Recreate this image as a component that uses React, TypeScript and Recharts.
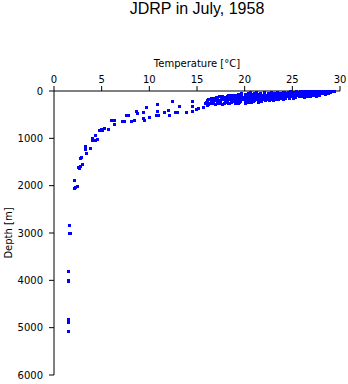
import { ScatterChart, Scatter, XAxis, YAxis } from 'recharts';

// hand-read points below the mixed layer: temperature [°C] / depth [m]
const deepTemp = [1.5, 1.5, 1.5, 1.5, 1.5, 1.5, 1.6, 1.7, 1.6, 2.2, 2.4, 2.1, 2.1];
const deepDepth = [5070, 4880, 4820, 4020, 3990, 3810, 3010, 2990, 2840, 2030, 2010, 2045, 1870];

const midTemp = [
  2.5, 2.7, 2.9, 2.6, 2.7, 2.8, 3.25, 3.4, 3.3, 3.8, 3.2, 3.95, 4.0, 4.3, 4.3, 4.55, 4.9, 5.2,
  4.75, 5.0, 5.7, 5.95, 6.3, 6.3, 7.1, 7.3, 7.55, 7.75, 8.05, 8.4, 8.6, 8.75, 9.3, 9.37, 9.45,
  9.6, 9.95, 10.7, 10.8, 10.8, 10.95, 11.5, 11.95, 12.1, 12.35, 12.65, 12.85, 13.15, 13.8,
  14.45, 14.5, 14.5, 14.85, 15.1, 15.6, 15.85, 16.1,
];
const midDepth = [
  1615, 1590, 1545, 1630, 1417, 1390, 1193, 1300, 1160, 1206, 1230, 997, 1030, 933, 1040, 1017,
  806, 785, 827, 820, 806, 617, 688, 617, 638, 638, 512, 500, 632, 617, 421, 470, 435, 562, 617,
  330, 540, 505, 267, 428, 512, 449, 393, 512, 217, 449, 449, 323, 435, 217, 323, 428, 379, 351,
  343, 260, 301,
];

// upper layer, grouped by sampling depth
const bandDepths = [0, 10, 20, 30, 50, 75, 100, 125, 150, 175, 200, 225, 250, 275];
const bandTemps = [
  [26.0, 26.5, 26.8, 27.3, 27.6, 28.1, 28.4, 28.7, 29.1, 29.4],
  [24.8, 25.4, 25.8, 26.2, 26.9, 27.3, 27.7, 28.3, 28.6, 29.1],
  [23.4, 24.1, 24.6, 25.1, 25.9, 26.4, 26.9, 27.6, 28.1, 28.8],
  [20.6, 21.2, 22.0, 22.8, 23.4, 24.0, 24.9, 25.5, 26.1, 26.9, 27.5, 28.3, 29.0],
  [19.6, 20.4, 21.0, 21.6, 22.5, 23.1, 23.7, 24.5, 25.3, 25.9, 26.5, 27.3, 28.1, 28.7],
  [18.6, 19.2, 20.1, 20.7, 21.3, 22.2, 22.8, 23.4, 24.2, 25.0, 25.6, 26.2, 27.0, 27.8],
  [17.6, 18.4, 19.0, 19.6, 20.5, 21.1, 21.7, 22.6, 23.2, 23.8, 24.7, 25.3, 26.0, 26.9, 27.5],
  [17.0, 17.8, 18.4, 19.0, 19.9, 20.5, 21.1, 22.0, 22.6, 23.2, 24.1, 24.7, 25.3, 26.2],
  [16.5, 17.1, 17.9, 18.7, 19.3, 19.9, 20.8, 21.4, 22.0, 22.9, 23.5, 24.2, 25.1],
  [16.2, 16.9, 17.5, 18.3, 19.1, 19.7, 20.3, 21.2, 21.8, 22.4, 23.3, 24.0],
  [16.0, 16.7, 17.3, 17.9, 18.8, 19.4, 20.0, 20.9, 21.5, 22.1, 23.0],
  [15.9, 16.5, 17.1, 17.9, 18.6, 19.2, 20.1, 20.7, 21.4],
  [15.8, 16.4, 17.2, 17.8, 18.4, 19.3, 20.0],
  [16.2, 16.9, 17.6],
];

// other stations, sampled between the depths above
const extraDepths = [5, 15, 40, 60, 85, 110, 140, 160, 190, 210, 240, 260];
const extraTemps = [
  [26.2, 26.6, 27.0, 27.4, 27.9, 28.2, 28.6, 28.9, 29.2],
  [24.5, 25.1, 25.6, 26.0, 26.6, 27.1, 27.5, 28.0, 28.5, 28.9],
  [21.0, 21.6, 22.4, 23.1, 23.7, 24.4, 25.2, 25.8, 26.4, 27.2, 27.8, 28.6],
  [19.3, 20.0, 20.7, 21.3, 22.0, 22.8, 23.4, 24.1, 24.9, 25.6, 26.2, 26.9, 27.6, 28.4],
  [18.2, 18.9, 19.5, 20.4, 21.0, 21.7, 22.5, 23.1, 23.8, 24.6, 25.3, 25.9, 26.6, 27.3],
  [17.3, 18.1, 18.7, 19.4, 20.2, 20.8, 21.5, 22.3, 22.9, 23.6, 24.4, 25.0, 25.7, 26.5],
  [16.8, 17.5, 18.1, 18.9, 19.6, 20.2, 21.0, 21.7, 22.3, 23.1, 23.8, 24.6],
  [16.4, 17.0, 17.7, 18.5, 19.1, 19.8, 20.6, 21.3, 21.9, 22.7, 23.5],
  [16.1, 16.8, 17.4, 18.1, 18.9, 19.5, 20.3, 21.0, 21.7, 22.5],
  [16.0, 16.6, 17.3, 18.0, 18.7, 19.5, 20.2, 20.9, 21.7],
  [15.9, 16.5, 17.2, 17.9, 18.6, 19.4, 20.3],
  [16.0, 16.7, 17.4, 18.2, 19.0],
];

const tempTicks = [0, 5, 10, 15, 20, 25, 30];
const depthTicks = [0, 1000, 2000, 3000, 4000, 5000, 6000];

const points = [
  ...deepTemp.map((t, i) => ({ t, d: deepDepth[i] })),
  ...midTemp.map((t, i) => ({ t, d: midDepth[i] })),
  ...bandTemps.flatMap((row, i) => row.map((t) => ({ t, d: bandDepths[i] }))),
  ...extraTemps.flatMap((row, i) => row.map((t) => ({ t, d: extraDepths[i] }))),
];

const font = '"DejaVu Sans", sans-serif';
const tickStyle = { fill: '#000', fontSize: 10, fontFamily: font };

const Square = (props: any) => (
  <rect x={Math.round(props.cx) - 1} y={Math.round(props.cy) - 1} width={3} height={3} fill="#0000ff" />
);

export default function App() {
  return (
    <div style={{ position: 'absolute', left: 0, top: 0, width: 348, height: 384, background: '#fff' }}>
      <div
        style={{
          position: 'absolute',
          left: 54,
          width: 286,
          top: 0,
          textAlign: 'center',
          fontFamily: '"Liberation Sans", Arial, sans-serif',
          fontSize: 16,
          lineHeight: '18px',
          color: '#000',
        }}
      >
        JDRP in July, 1958
      </div>
      <ScatterChart width={348} height={384} margin={{ top: 61, right: 8, left: 0, bottom: 9 }}>
        <XAxis
          dataKey="t"
          type="number"
          orientation="top"
          domain={[0, 30]}
          ticks={tempTicks}
          height={30}
          tickSize={5}
          tickMargin={3}
          axisLine={{ stroke: '#000' }}
          tickLine={{ stroke: '#000' }}
          tick={tickStyle}
          label={{ value: 'Temperature [°C]', position: 'top', offset: -6, fill: '#000', fontSize: 10, fontFamily: font }}
        />
        <YAxis
          dataKey="d"
          type="number"
          reversed
          domain={[0, 6000]}
          ticks={depthTicks}
          width={54}
          tickSize={5}
          tickMargin={6}
          axisLine={{ stroke: '#000' }}
          tickLine={{ stroke: '#000' }}
          tick={tickStyle}
          label={{
            value: 'Depth [m]',
            angle: -90,
            position: 'insideLeft',
            offset: 8,
            fill: '#000',
            fontSize: 10,
            fontFamily: font,
            style: { textAnchor: 'middle' },
          }}
        />
        <Scatter data={points} shape={Square} isAnimationActive={false} />
      </ScatterChart>
    </div>
  );
}
